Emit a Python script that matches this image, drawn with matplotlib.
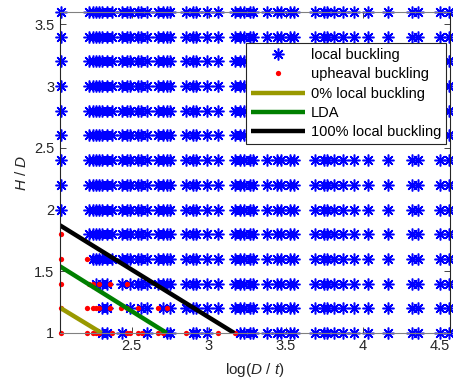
import numpy as np
import matplotlib.pyplot as plt

plt.rcParams['font.family'] = 'Liberation Sans'
plt.rcParams['mathtext.fontset'] = 'custom'
plt.rcParams['mathtext.rm'] = 'Liberation Sans'
plt.rcParams['mathtext.it'] = 'Liberation Sans:italic'

# log(D/t) columns of the parameter grid
log_dt = [2.04, 2.22, 2.25, 2.27, 2.29, 2.31, 2.34, 2.37, 2.44, 2.47, 2.49,
          2.54, 2.56, 2.60, 2.67, 2.70, 2.73, 2.75, 2.85, 2.90, 2.92, 2.99,
          3.06, 3.17, 3.20, 3.23, 3.27, 3.29, 3.38, 3.44, 3.47, 3.53, 3.55,
          3.69, 3.75, 3.77, 3.81, 3.87, 3.94, 4.03, 4.16, 4.32, 4.36, 4.50, 4.56]
# H/D rows
h_d = [1.0, 1.2, 1.4, 1.6, 1.8, 2.0, 2.2, 2.4, 2.6, 2.8, 3.0, 3.2, 3.4, 3.6]

# upheaval buckling cases (log(D/t)) per H/D row
upheaval_10 = [2.04, 2.21, 2.25, 2.27, 2.29, 2.37, 2.47, 2.49, 2.54, 2.57,
               2.67, 2.70, 2.85, 3.06, 3.17]
upheaval_12 = [2.04, 2.21, 2.25, 2.27, 2.29, 2.36, 2.43, 2.47, 2.54, 2.67, 2.73]
upheaval_14 = [2.04, 2.22, 2.25, 2.29, 2.36, 2.47]
upheaval_16 = [2.04, 2.21]
upheaval_18 = [2.04]
upheaval = {1.0: upheaval_10, 1.2: upheaval_12, 1.4: upheaval_14,
            1.6: upheaval_16, 1.8: upheaval_18}

# boundary lines (start, end)
line0_x, line0_y = [2.035, 2.305], [1.205, 1.0]
lda_x, lda_y = [2.035, 2.727], [1.54, 1.0]
line100_x, line100_y = [2.035, 3.165], [1.872, 1.0]

# split grid into local / upheaval
lx, ly, ux, uy = [], [], [], []
for hd in h_d:
    red = upheaval.get(hd, [])
    for x in log_dt:
        if not any(abs(x - r) < 0.015 for r in red):
            lx.append(x)
            ly.append(hd)
    ux.extend(red)
    uy.extend([hd] * len(red))

fig = plt.figure(figsize=(4.53, 3.89), dpi=100)
ax = fig.add_axes([60/453, 56/389, 390/453, 321/389])

ax.plot(lx, ly, linestyle='none', marker=(8, 2, 0), markersize=8.5,
        markeredgewidth=1.1, color='#0000ff', clip_on=False,
        label='local buckling')
ax.plot(ux, uy, linestyle='none', marker='o', markersize=3.8,
        markeredgewidth=0, color='#ff0000', clip_on=False,
        label='upheaval buckling')
ax.plot(line0_x, line0_y, color='#999900', lw=3.2, solid_capstyle='butt',
        label='0% local buckling')
ax.plot(lda_x, lda_y, color='#008000', lw=3.2, solid_capstyle='butt',
        label='LDA')
ax.plot(line100_x, line100_y, color='black', lw=3.2, solid_capstyle='butt',
        label='100% local buckling')

ax.set_xlim(2.035, 4.565)
ax.set_ylim(1.0, 3.6)
ax.set_xticks([2.5, 3, 3.5, 4, 4.5])
ax.set_xticklabels(['2.5', '3', '3.5', '4', '4.5'])
ax.set_yticks([1, 1.5, 2, 2.5, 3, 3.5])
ax.set_yticklabels(['1', '1.5', '2', '2.5', '3', '3.5'])
ax.tick_params(direction='in', length=4, width=0.6, colors='#262626',
               labelsize=10.5, top=True, right=True, pad=4)
for side in ['left', 'right']:
    ax.spines[side].set_color('#262626')
    ax.spines[side].set_linewidth(0.8)
for side in ['top', 'bottom']:
    ax.spines[side].set_color('#808080')
    ax.spines[side].set_linewidth(0.8)

ax.set_xlabel('log($D$ / $t$)', fontsize=11, color='#262626', labelpad=6)
ax.set_ylabel('$H$ / $D$', fontsize=11, color='#262626', labelpad=4)

leg = ax.legend(loc='upper right', bbox_to_anchor=(0.99, 0.903),
                borderaxespad=0, fontsize=10.5, handlelength=3.7,
                labelspacing=0.36, handletextpad=0.4, borderpad=0.35,
                fancybox=False, framealpha=1, edgecolor='#262626')
leg.get_frame().set_linewidth(0.8)

fig.savefig('out.png', dpi=100)
